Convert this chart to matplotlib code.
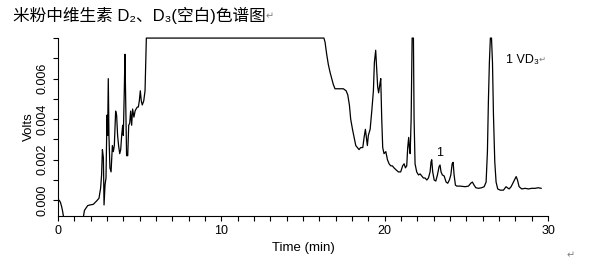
import numpy as np
import matplotlib
matplotlib.use('Agg')
from matplotlib import pyplot as plt
from matplotlib.ticker import MultipleLocator, FixedLocator
from matplotlib.transforms import Bbox, TransformedBbox

# chromatogram trace (time in min, signal in volts)
# 0.008 = detector saturation (flat top), -0.0011 = below the plotted range
time_min = [0.0, 0.08, 0.15, 0.22, 0.27, 0.4, 1.5, 1.62, 1.7, 1.82, 1.96, 2.16, 2.37,
            2.51, 2.61, 2.67, 2.72, 2.78, 2.82, 2.88, 2.94, 3.0, 3.04, 3.08, 3.12, 3.18,
            3.25, 3.33, 3.39, 3.45, 3.53, 3.59, 3.65, 3.71, 3.78, 3.84, 3.9, 3.96, 4.0,
            4.06, 4.1, 4.16, 4.2, 4.27, 4.33, 4.39, 4.45, 4.51, 4.57, 4.65, 4.72, 4.78,
            4.86, 4.92, 4.98, 5.04, 5.1, 5.16, 5.25, 5.33, 5.37, 5.41,
            16.28, 16.35, 16.45, 16.55, 16.66, 16.76, 16.86, 16.96, 17.16, 17.47, 17.64,
            17.74, 17.84, 17.92, 18.03, 18.13, 18.23, 18.33, 18.43, 18.53, 18.66, 18.74,
            18.82, 18.88, 18.94, 19.0, 19.11, 19.21, 19.31, 19.37, 19.45, 19.51, 19.57,
            19.63, 19.7, 19.76, 19.82, 19.88, 19.96, 20.07, 20.17, 20.27, 20.37, 20.47,
            20.57, 20.7, 20.84, 20.98, 21.1, 21.19, 21.27, 21.35, 21.41, 21.47, 21.51,
            21.56, 21.62, 21.68, 21.76, 21.8, 21.86, 21.96, 22.07, 22.17, 22.27, 22.37,
            22.47, 22.58, 22.68, 22.78, 22.84, 22.88, 22.94, 23.03, 23.13, 23.23, 23.33,
            23.39, 23.45, 23.53, 23.64, 23.76, 23.86, 23.96, 24.05, 24.13, 24.19, 24.25,
            24.33, 24.41, 24.62, 24.92, 25.13, 25.27, 25.37, 25.47, 25.58, 25.74, 25.94,
            26.09, 26.21, 26.29, 26.35, 26.41, 26.47, 26.54, 26.6, 26.66, 26.74, 26.82,
            26.92, 27.07, 27.27, 27.43, 27.51, 27.62, 27.74, 27.88, 28.05, 28.13, 28.23,
            28.39, 28.6, 28.8, 29.0, 29.21, 29.41, 29.58]
volts = [0.0, 0.0, -0.0001, -0.0003, -0.00048, -0.0011, -0.0011, -0.0005, -0.0004,
         -0.00026, -0.00023, -0.0002, -0.00003, 0.0001, 0.0006, 0.00125, 0.0025, 0.0021,
         -0.00023, 0.00075, 0.0011, 0.0042, 0.0032, 0.006, 0.0032, 0.0016, 0.0014,
         0.0027, 0.0024, 0.0027, 0.0044, 0.0042, 0.0032, 0.0027, 0.0023, 0.0025, 0.0032,
         0.0037, 0.0032, 0.0054, 0.0072, 0.0042, 0.0022, 0.0022, 0.0037, 0.0038, 0.0044,
         0.0037, 0.0045, 0.0041, 0.0044, 0.0045, 0.0046, 0.0046, 0.0049, 0.0054, 0.0049,
         0.0047, 0.0049, 0.0054, 0.0066, 0.008,
         0.008, 0.0078, 0.0072, 0.0067, 0.0063, 0.006, 0.0057, 0.0055, 0.0055, 0.0055,
         0.0054, 0.0052, 0.0047, 0.004, 0.0035, 0.0031, 0.0027, 0.0026, 0.0025, 0.0026,
         0.0026, 0.0031, 0.0035, 0.0031, 0.0027, 0.0032, 0.0035, 0.0044, 0.0054, 0.0068,
         0.0074, 0.0065, 0.0056, 0.0053, 0.0057, 0.006, 0.004, 0.0026, 0.0023, 0.0024,
         0.002, 0.0018, 0.0017, 0.0017, 0.0016, 0.0015, 0.0014, 0.0014, 0.0017, 0.0018,
         0.0016, 0.0017, 0.0026, 0.0031, 0.0026, 0.0023, 0.004, 0.008, 0.008, 0.004,
         0.0018, 0.0014, 0.00125, 0.0013, 0.0012, 0.0011, 0.0011, 0.001, 0.0011, 0.0014,
         0.0019, 0.002, 0.0014, 0.001, 0.00095, 0.00125, 0.00166, 0.00174, 0.0014,
         0.00125, 0.0012, 0.0009, 0.00084, 0.001, 0.00125, 0.0018, 0.00187, 0.00125,
         0.00075, 0.0007, 0.0007, 0.00067, 0.0007, 0.00084, 0.0009, 0.00075, 0.00062,
         0.00059, 0.00062, 0.00067, 0.0009, 0.0024, 0.0049, 0.0068, 0.008, 0.008,
         0.0068, 0.0042, 0.0019, 0.0009, 0.00056, 0.0005, 0.0005, 0.00067, 0.00062,
         0.00056, 0.00067, 0.0009, 0.00117, 0.001, 0.00067, 0.00056, 0.00059, 0.00056,
         0.00059, 0.00059, 0.00062, 0.00059]

title = '米粉中维生素 D₂、D₃(空白)色谱图'
fam = ['Liberation Sans', 'Noto Sans CJK SC', 'DejaVu Sans']
plt.rcParams['font.family'] = fam

fig = plt.figure(figsize=(5.94, 2.62), dpi=100)
ax = fig.add_axes([0.0976, 0.1767, 0.825, 0.678])
line, = ax.plot(time_min, volts, color='black', lw=0.9)
# let the saturated top show fully, but still cut what falls below the axis
line.set_clip_box(TransformedBbox(Bbox([[0, 0], [1, 1.02]]), ax.transAxes))

ax.set_xlim(0, 30)
ax.set_ylim(-0.00076, 0.008)
ax.spines['top'].set_visible(False)
ax.spines['right'].set_visible(False)
ax.xaxis.set_major_locator(FixedLocator([0, 10, 20, 30]))
ax.xaxis.set_minor_locator(MultipleLocator(1))
ax.yaxis.set_major_locator(FixedLocator([0.0, 0.002, 0.004, 0.006]))
ax.yaxis.set_minor_locator(FixedLocator([0.001, 0.003, 0.005, 0.007, 0.008]))
ax.yaxis.set_major_formatter(plt.FuncFormatter(lambda v, p: '%.3f' % v))
ax.tick_params(which='both', direction='out', length=3.5, width=0.8, labelsize=9)
for lab in ax.get_yticklabels():
    lab.set_rotation(90)
    lab.set_va('center')
ax.set_xlabel('Time (min)', fontsize=9.5, labelpad=3)
ax.set_ylabel('Volts', fontsize=9.5, labelpad=1)

ax.text(23.39, 0.00233, '1', fontsize=9, ha='center', va='center')
t = ax.text(27.43, 0.0069, '1 VD₃', fontsize=9, ha='left', va='center')
ax.annotate('↵', xy=(1, 0.2), xycoords=t, fontsize=6, color='gray', va='bottom')

tt = fig.text(0.022, 0.943, title, fontsize=12, ha='left', va='center')
ax.annotate('↵', xy=(1, 0.15), xycoords=tt, fontsize=7, color='gray', va='bottom')
fig.text(0.961, 0.027, '↵', fontsize=7, color='gray', ha='center', va='center')

plt.savefig('out.png', dpi=100)
